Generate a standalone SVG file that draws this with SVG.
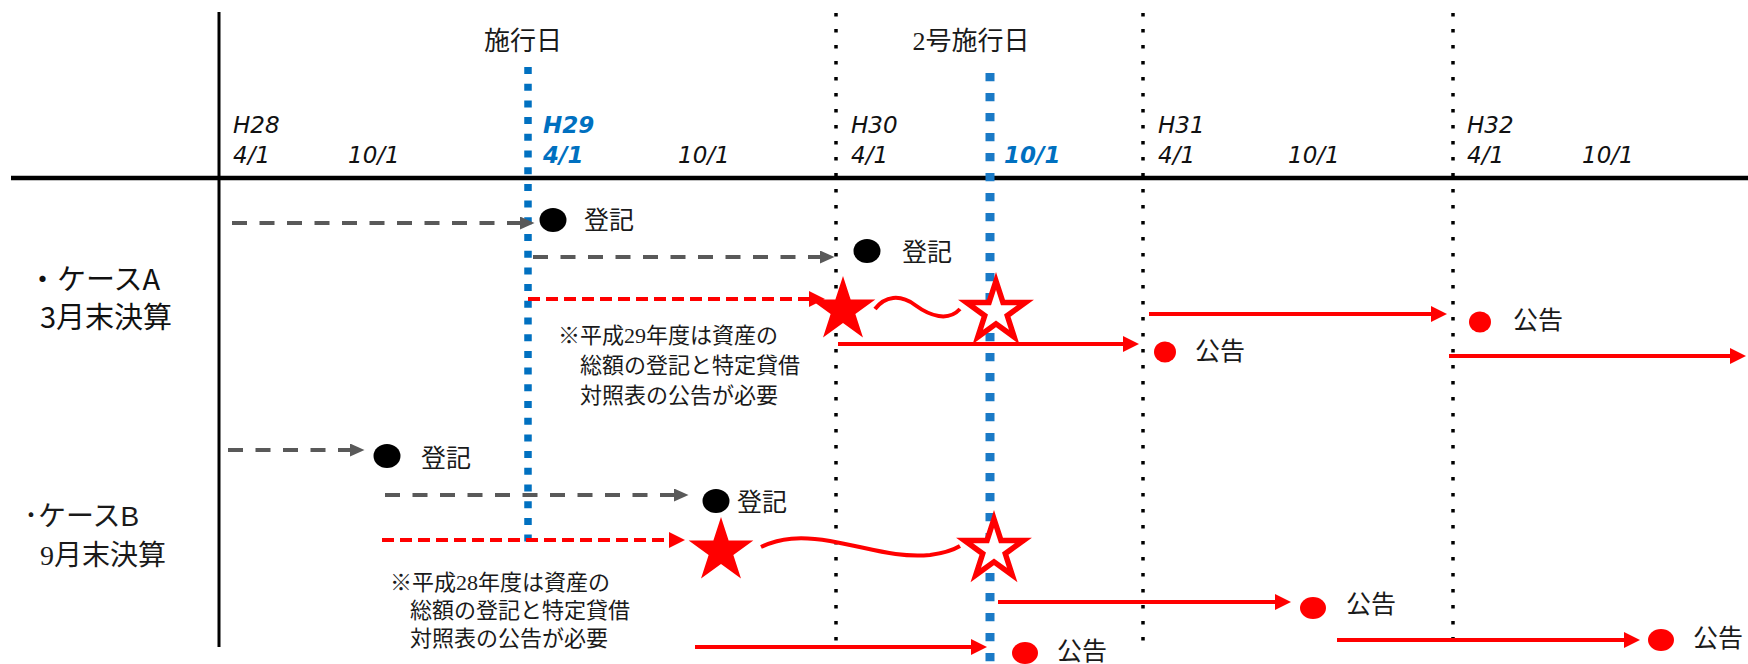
<svg xmlns="http://www.w3.org/2000/svg" width="1748" height="664" viewBox="0 0 1748 664">
<style>
.mj{font-family:"Liberation Serif","Noto Sans CJK JP",serif;fill:#1a1a1a}
.sj{font-family:"Noto Sans CJK JP","Noto Sans",sans-serif;fill:#111}
.ax{font-family:"DejaVu Sans",Verdana,sans-serif;font-style:italic;font-size:23px;fill:#111}
.axb{font-family:"DejaVu Sans",Verdana,sans-serif;font-style:italic;font-weight:bold;font-size:23px;fill:#0070C0}
.lbl{font-size:25px}
.note{font-size:22px}
.dot{stroke:#000;stroke-width:3.5;stroke-dasharray:3.5 12.5;fill:none}
.gray{stroke:#595959;stroke-width:4;stroke-dasharray:15 12.5;fill:none}
.rdash{stroke:#ff0000;stroke-width:4;stroke-dasharray:12 6;fill:none}
.red{stroke:#ff0000;stroke-width:4;fill:none}
.blk{fill:#000}
.rc{fill:#ff0000}
</style>
<defs>
<marker id="ga" markerUnits="userSpaceOnUse" markerWidth="15" markerHeight="14" refX="1" refY="6.5" orient="auto"><path d="M0,0 L14.5,6.5 L0,13 z" fill="#595959"/></marker>
<marker id="ra" markerUnits="userSpaceOnUse" markerWidth="17" markerHeight="17" refX="1" refY="8" orient="auto"><path d="M0,0 L16,8 L0,16 z" fill="#ff0000"/></marker>
<path id="starF" d="M0,-34 L7.64,-10.52 L32.34,-10.51 L12.36,4.02 L19.98,27.51 L0,13 L-19.98,27.51 L-12.36,4.02 L-32.34,-10.51 L-7.64,-10.52 Z"/>
<path id="starO" d="M0,-31 L6.96,-9.59 L29.48,-9.58 L11.26,3.66 L18.22,25.08 L0,11.84 L-18.22,25.08 L-11.26,3.66 L-29.48,-9.58 L-6.96,-9.59 Z"/>
</defs>

<g id="axes">
<line x1="219" y1="12" x2="219" y2="647" stroke="#000" stroke-width="3"/>
<line x1="11" y1="178" x2="1748" y2="178" stroke="#000" stroke-width="4.5"/>
<line class="dot" x1="836" y1="13" x2="836" y2="642"/>
<line class="dot" x1="1143" y1="13" x2="1143" y2="642"/>
<line class="dot" x1="1453" y1="13" x2="1453" y2="642"/>
<line x1="528" y1="67" x2="528" y2="548" stroke="#0070C0" stroke-width="7.5" stroke-dasharray="7 9.7"/>
<line x1="990" y1="73" x2="990" y2="664" stroke="#1a7ac6" stroke-width="9" stroke-dasharray="8.3 11.7"/>
</g>

<g id="headers">
<text class="mj" x="523" y="50" font-size="26" text-anchor="middle">施行日</text>
<text class="mj" x="971" y="50" font-size="26" text-anchor="middle">2号施行日</text>
<text class="ax" x="233" y="133">H28</text><text class="ax" x="233" y="163">4/1</text>
<text class="ax" x="348" y="163">10/1</text>
<text class="axb" x="543" y="133">H29</text><text class="axb" x="543" y="163">4/1</text>
<text class="ax" x="678" y="163">10/1</text>
<text class="ax" x="851" y="133">H30</text><text class="ax" x="851" y="163">4/1</text>
<text class="axb" x="1004" y="163">10/1</text>
<text class="ax" x="1158" y="133">H31</text><text class="ax" x="1158" y="163">4/1</text>
<text class="ax" x="1288" y="163">10/1</text>
<text class="ax" x="1467" y="133">H32</text><text class="ax" x="1467" y="163">4/1</text>
<text class="ax" x="1582" y="163">10/1</text>
</g>

<g id="caseA-label">
<text class="sj" x="28" y="290" font-size="29">・ケースA</text>
<text class="sj" x="40" y="328" font-size="29">3月末決算</text>
</g>
<g id="caseB-label">
<text class="mj" x="24" y="526" font-size="28">･ケース<tspan font-family="'Liberation Sans','Noto Sans',sans-serif">B</tspan></text>
<text class="mj" x="40" y="565" font-size="28">9月末決算</text>
</g>

<g id="connectors">
<line class="gray" x1="232" y1="223" x2="521" y2="223" marker-end="url(#ga)"/>
<line class="gray" x1="533" y1="257" x2="821" y2="257" marker-end="url(#ga)"/>
<line class="gray" x1="228" y1="450" x2="351" y2="450" marker-end="url(#ga)"/>
<line class="gray" x1="385" y1="495" x2="675" y2="495" marker-end="url(#ga)"/>
<line class="rdash" x1="528" y1="299" x2="810" y2="299" marker-end="url(#ra)"/>
<line class="rdash" x1="382" y1="540" x2="670" y2="540" marker-end="url(#ra)"/>
<line class="red" x1="838" y1="344" x2="1124" y2="344" marker-end="url(#ra)"/>
<line class="red" x1="1149" y1="314" x2="1432" y2="314" marker-end="url(#ra)"/>
<line class="red" x1="1449" y1="356" x2="1731" y2="356" marker-end="url(#ra)"/>
<line class="red" x1="695" y1="647" x2="972" y2="647" marker-end="url(#ra)"/>
<line class="red" x1="998" y1="602" x2="1276" y2="602" marker-end="url(#ra)"/>
<line class="red" x1="1337" y1="640" x2="1625" y2="640" marker-end="url(#ra)"/>
<path class="red" d="M875,309 C885,296 900,294 915,305 C930,316 948,322 960,309"/>
<path class="red" d="M761,547 C780,538 800,536 830,541 C870,548 895,558 930,555 C945,553 955,549 960,546"/>
</g>

<g id="stars">
<use href="#starF" transform="translate(843,310)" fill="#ff0000"/>
<use href="#starO" transform="translate(996,312)" fill="#fff" stroke="#ff0000" stroke-width="5.5" stroke-miterlimit="10"/>
<use href="#starF" transform="translate(721,551)" fill="#ff0000"/>
<use href="#starO" transform="translate(994,550)" fill="#fff" stroke="#ff0000" stroke-width="5.5" stroke-miterlimit="10"/>
</g>

<g id="reg-A1"><ellipse class="blk" cx="553" cy="220" rx="13.5" ry="12"/><text class="mj lbl" x="584" y="229">登記</text></g>
<g id="reg-A2"><ellipse class="blk" cx="867" cy="251" rx="13.5" ry="12"/><text class="mj lbl" x="902" y="261">登記</text></g>
<g id="reg-B1"><ellipse class="blk" cx="387" cy="456" rx="13.5" ry="12"/><text class="mj lbl" x="421" y="467">登記</text></g>
<g id="reg-B2"><ellipse class="blk" cx="716" cy="501" rx="13.5" ry="12"/><text class="mj lbl" x="737" y="511">登記</text></g>

<g id="pub-A1"><ellipse class="rc" cx="1165" cy="352" rx="11" ry="10.5"/><text class="mj lbl" x="1195" y="360">公告</text></g>
<g id="pub-A2"><ellipse class="rc" cx="1480" cy="322" rx="11" ry="10.5"/><text class="mj lbl" x="1513" y="329">公告</text></g>
<g id="pub-B0"><ellipse class="rc" cx="1025" cy="653" rx="13" ry="11"/><text class="mj lbl" x="1057" y="660">公告</text></g>
<g id="pub-B1"><ellipse class="rc" cx="1313" cy="608" rx="13" ry="11"/><text class="mj lbl" x="1346" y="613">公告</text></g>
<g id="pub-B2"><ellipse class="rc" cx="1661" cy="640" rx="13" ry="11"/><text class="mj lbl" x="1693" y="647">公告</text></g>

<g id="noteA">
<text class="mj note" x="558" y="343">※平成29年度は資産の</text>
<text class="mj note" x="580" y="373">総額の登記と特定貸借</text>
<text class="mj note" x="580" y="403">対照表の公告が必要</text>
</g>
<g id="noteB">
<text class="mj note" x="390" y="590">※平成28年度は資産の</text>
<text class="mj note" x="410" y="618">総額の登記と特定貸借</text>
<text class="mj note" x="410" y="646">対照表の公告が必要</text>
</g>
</svg>
